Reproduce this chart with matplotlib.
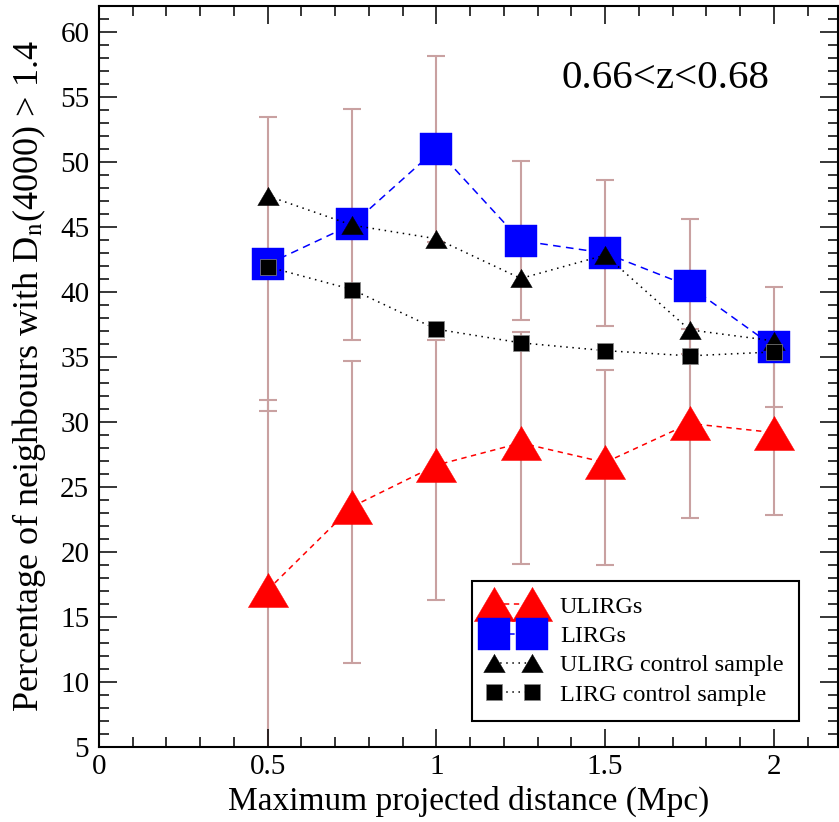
import matplotlib
matplotlib.use("Agg")
import matplotlib.pyplot as plt
from matplotlib.ticker import MultipleLocator, FuncFormatter

plt.rcParams["font.family"] = ["Liberation Serif", "DejaVu Serif"]
plt.rcParams["mathtext.fontset"] = "stix"

# values
dist = [0.5, 0.75, 1.0, 1.25, 1.5, 1.75, 2.0]
ulirg = [17.1, 23.5, 26.7, 28.4, 26.9, 29.9, 29.2]
ulirg_err_lo = [14.6, 12.0, 10.4, 9.3, 7.9, 7.3, 6.3]
ulirg_err_hi = [14.6, 11.2, 9.6, 8.5, 7.1, 7.3, 6.3]
lirg = [42.15, 45.2, 51.0, 43.95, 43.0, 40.45, 35.8]
lirg_err = [11.3, 8.9, 7.15, 6.1, 5.6, 5.2, 4.6]
ulirg_ctrl = [47.4, 45.15, 44.1, 41.05, 42.85, 37.1, 36.25]
lirg_ctrl = [41.95, 40.2, 37.15, 36.1, 35.5, 35.1, 35.4]

W, H = 839, 822
fig = plt.figure(figsize=(W / 100, H / 100), dpi=100)
ax = fig.add_axes([99 / W, 1 - 747.3 / H, (838 - 99) / W, (747.3 - 6) / H])

err_color = "#c9a1a1"
ekw = dict(fmt="none", ecolor=err_color, elinewidth=1.5, capsize=6.5, capthick=1.5, zorder=1)
ax.errorbar(dist, ulirg, yerr=[ulirg_err_lo, ulirg_err_hi], **ekw)
ax.errorbar(dist, lirg, yerr=[lirg_err, lirg_err], **ekw)

# wide, flat triangle like the original
tri = [(0, 1), (-1.18, -1), (1.18, -1), (0, 1)]

ax.plot(dist, ulirg, color="red", ls=(0, (3.5, 3)), lw=1.1, marker=tri, ms=29,
        mec="red", mew=0.3, label="ULIRGs", zorder=3)
ax.plot(dist, lirg, color="blue", ls=(0, (5, 3.5)), lw=1.1, marker="s", ms=23.5,
        mec="blue", mew=0.3, label="LIRGs", zorder=3)
ax.plot(dist, ulirg_ctrl, color="black", ls=(0, (1, 3)), lw=1.1, marker=tri, ms=15.5,
        mec="black", mew=0.3, label="ULIRG control sample", zorder=4)
ax.plot(dist, lirg_ctrl, color="black", ls=(0, (1, 3)), lw=1.1, marker="s", ms=11.5,
        mec="#888888", mew=0.5, label="LIRG control sample", zorder=4)

ax.set_xlim(0, 2.19)
ax.set_ylim(5, 62)
ax.xaxis.set_major_locator(MultipleLocator(0.5))
ax.xaxis.set_minor_locator(MultipleLocator(0.1))
ax.yaxis.set_major_locator(MultipleLocator(5))
ax.yaxis.set_minor_locator(MultipleLocator(1))
ax.xaxis.set_major_formatter(FuncFormatter(lambda v, p: f"{v:g}"))
ax.tick_params(which="both", direction="in", top=True, right=True, width=1.1, labelsize=21)
ax.tick_params(which="major", length=13)
ax.tick_params(which="minor", length=7)
ax.tick_params(axis="y", pad=7)
ax.tick_params(axis="x", pad=5)
for s in ax.spines.values():
    s.set_linewidth(1.5)

ax.set_xlabel("Maximum projected distance (Mpc)", fontsize=24, labelpad=4)
ax.set_ylabel(r"Percentage of neighbours with D$_\mathrm{n}$(4000) > 1.4", fontsize=26, labelpad=9)

ax.text(665 / W, 1 - 78 / H, "0.66<z<0.68", transform=fig.transFigure,
        fontsize=29.5, ha="center", va="center")

leg = ax.legend(loc="upper left", bbox_to_anchor=(472 / W, 1 - 580.7 / H),
                bbox_transform=fig.transFigure, borderaxespad=0, numpoints=2,
                fontsize=17.5, handlelength=2.15, handletextpad=0.85, borderpad=0.62,
                labelspacing=0.3, fancybox=False, framealpha=1, edgecolor="black")
leg.get_frame().set_linewidth(1.5)

fig.savefig("out.png", dpi=100)
